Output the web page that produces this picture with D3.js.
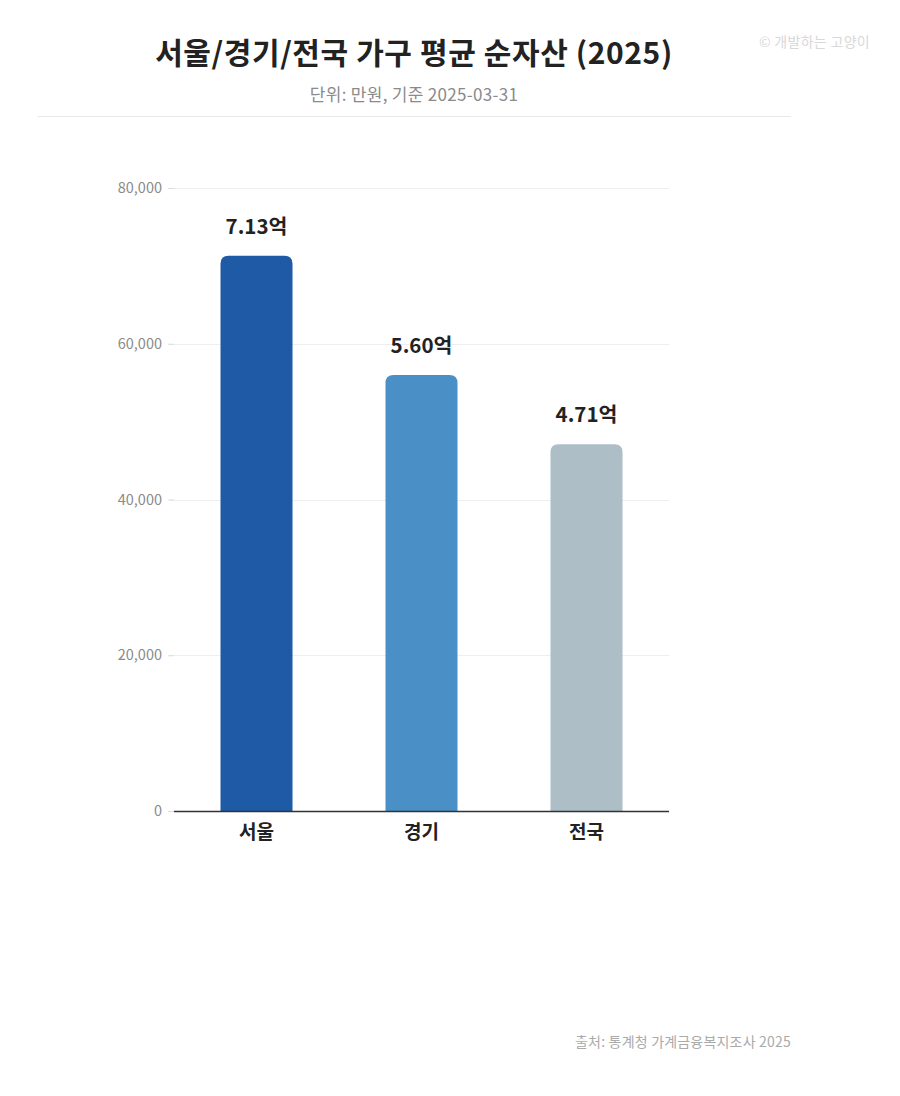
<!DOCTYPE html>
<html><head><meta charset="utf-8">
<script src="https://cdn.jsdelivr.net/npm/d3@7"></script>
<style>
html,body{margin:0;padding:0;background:#fff;}
svg{display:block;font-family:"Noto Sans CJK KR","Noto Sans",sans-serif;}
</style></head>
<body>
<svg id="c" width="900" height="1096"></svg>
<script>
const categories = ["서울", "경기", "전국"];
const values = [71300, 56000, 47100];
const valueLabels = ["7.13억", "5.60억", "4.71억"];
const colors = ["#1f5aa7", "#4a90c7", "#aebec7"];
const yTicks = [0, 20000, 40000, 60000, 80000];

const svg = d3.select("#c");
const m = {left:174, right:669, top:188, bottom:811};

svg.append("text").attr("x",414).attr("y",64).attr("text-anchor","middle")
  .attr("font-size",30).attr("font-weight",700).attr("fill","#222").attr("letter-spacing",0.6)
  .text("서울/경기/전국 가구 평균 순자산 (2025)");
svg.append("text").attr("x",414).attr("y",101).attr("text-anchor","middle")
  .attr("font-size",17).attr("fill","#8a8a8a").attr("letter-spacing",0.3).text("단위: 만원, 기준 2025-03-31");
svg.append("text").attr("x",870).attr("y",47).attr("text-anchor","end")
  .attr("font-size",14).attr("fill","#d8d8d8").attr("letter-spacing",0.3).text("© 개발하는 고양이");
svg.append("line").attr("x1",38).attr("x2",791).attr("y1",116.5).attr("y2",116.5)
  .attr("stroke","#e8e8e8").attr("stroke-width",1);

const x = d3.scaleBand().domain(categories).range([m.left, m.right])
  .paddingInner(1 - 72/165).paddingOuter((1 - 72/165)/2);
const y = d3.scaleLinear().domain([0, 80000]).range([m.bottom, m.top]);

svg.append("g").selectAll("line").data(yTicks.filter(d=>d>0)).join("line")
  .attr("x1", m.left - 4).attr("x2", m.right)
  .attr("y1", d=>Math.round(y(d))+0.5).attr("y2", d=>Math.round(y(d))+0.5)
  .attr("stroke","#eeeeee");

const yAxis = svg.append("g").attr("transform",`translate(${m.left},0)`)
  .call(d3.axisLeft(y).tickValues(yTicks).tickFormat(d3.format(",")).tickSize(6).tickPadding(6));
yAxis.select(".domain").remove();
yAxis.selectAll(".tick line").attr("stroke","#dddddd");
yAxis.selectAll("text").attr("font-size",14.5).attr("fill","#8a8a8a")
  .attr("font-family","'Noto Sans CJK KR','Noto Sans',sans-serif");

const r = 8;
function barPath(x0, y0, w, h) {
  const rr = Math.min(r, h/2, w/2);
  return `M${x0},${y0+h}V${y0+rr}Q${x0},${y0} ${x0+rr},${y0}H${x0+w-rr}Q${x0+w},${y0} ${x0+w},${y0+rr}V${y0+h}Z`;
}
svg.append("g").selectAll("path").data(categories).join("path")
  .attr("d",(d,i)=>barPath(x(d), y(values[i]), x.bandwidth(), y(0)-y(values[i])))
  .attr("fill",(d,i)=>colors[i]);

svg.append("g").selectAll("text").data(categories).join("text")
  .attr("x",d=>x(d)+x.bandwidth()/2).attr("y",(d,i)=>y(values[i])-22)
  .attr("text-anchor","middle").attr("font-size",20.5).attr("font-weight",700).attr("fill","#222")
  .text((d,i)=>valueLabels[i]);

svg.append("line").attr("x1",m.left).attr("x2",m.right)
  .attr("y1",m.bottom+0.5).attr("y2",m.bottom+0.5).attr("stroke","#333").attr("stroke-width",1.5);

const xAxis = svg.append("g").attr("transform",`translate(0,${m.bottom})`)
  .call(d3.axisBottom(x).tickSize(0).tickPadding(15));
xAxis.select(".domain").remove();
xAxis.selectAll("text").attr("font-size",19).attr("font-weight",700).attr("fill","#222")
  .attr("font-family","'Noto Sans CJK KR','Noto Sans',sans-serif");

svg.append("text").attr("x",791).attr("y",1047).attr("text-anchor","end")
  .attr("font-size",14).attr("fill","#aaaaaa").attr("letter-spacing",0.2).text("출처: 통계청 가계금융복지조사 2025");
</script>
</body></html>
